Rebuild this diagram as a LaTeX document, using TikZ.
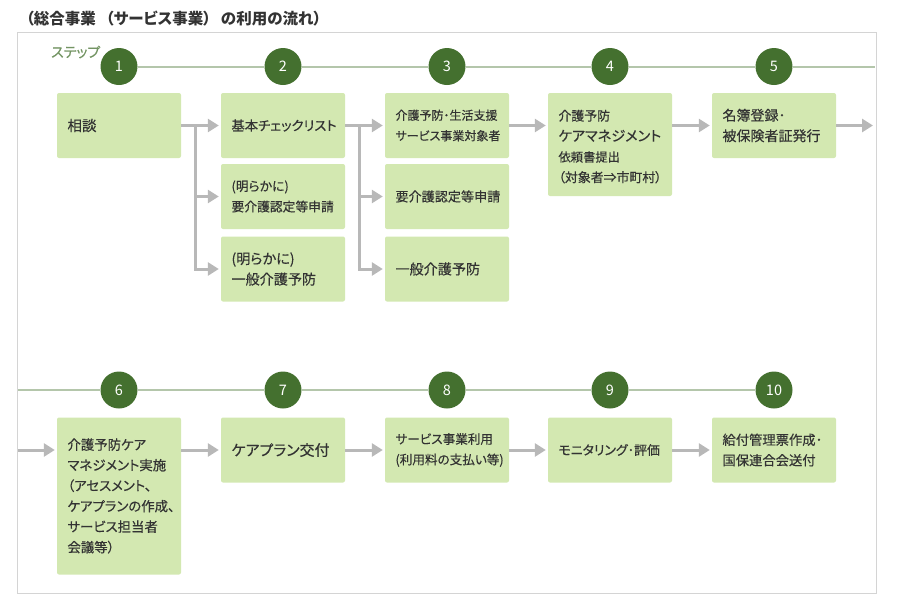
\documentclass[tikz,border=0pt]{standalone}
\usepackage{fontspec}
\usetikzlibrary{arrows.meta}
\setmainfont{Noto Sans CJK JP}[RawFeature={+palt}]
\newfontfamily\boxfont{Noto Sans CJK JP}[RawFeature={+palt},FakeBold=0.4]
\newcommand{\linesize}[1]{\fontsize{#1}{20.5}\selectfont}
\definecolor{boxgreen}{HTML}{D3E8B1}
\definecolor{stepgreen}{HTML}{44702F}
\definecolor{linegreen}{HTML}{B4C6AB}
\definecolor{flowgray}{HTML}{B8B8B8}
\definecolor{framegray}{HTML}{D4D4D4}
\definecolor{inkgray}{HTML}{333333}
\begin{document}
\begin{tikzpicture}
		[x=1pt,y=-1pt,
		stepnode/.style={circle,fill=stepgreen,text=white,minimum size=37pt,inner sep=0pt,font=\fontsize{14.5}{14.5}\selectfont},
		boxnode/.style={rectangle,rounded corners=2pt,fill=boxgreen,text=inkgray,minimum width=124pt,inner xsep=10.5pt,inner ysep=0pt,text width=103pt,align=left,font=\boxfont\linesize{#1}},
		shortbox/.style={boxnode=#1,minimum height=65pt},
		timeline/.style={draw=linegreen,line width=2pt},
		flow/.style={draw=flowgray,line width=3pt,-{Triangle[length=11pt,width=13pt]},shorten >=2pt}]
		\useasboundingbox (0,0) rectangle (900,600);
		\draw[framegray,line width=1pt] (17.5,32) rectangle (876,593);
		\node[anchor=west,inner sep=0pt,text=inkgray,name=title,font=\bfseries\fontsize{15.5}{15.5}\selectfont] at (26,19) {（総合事業\hspace{10pt}（サービス事業）\hspace{10pt}の利用の流れ）};
		\node[anchor=west,inner sep=0pt,text=stepgreen!75!white,name=steplabel,font=\boxfont\fontsize{14}{14}\selectfont] at (51,52) {ステップ};
		% steps
		\node[stepnode,name=step1] at (119,66.5) {1};
		\node[stepnode,name=step2] at (283,66.5) {2};
		\node[stepnode,name=step3] at (447,66.5) {3};
		\node[stepnode,name=step4] at (610,66.5) {4};
		\node[stepnode,name=step5] at (774,66.5) {5};
		\node[stepnode,name=step6] at (119,390) {6};
		\node[stepnode,name=step7] at (283,390) {7};
		\node[stepnode,name=step8] at (447,390) {8};
		\node[stepnode,name=step9] at (610,390) {9};
		\node[stepnode,name=step10] at (774,390) {10};
		\coordinate (lineend) at (875,66.5);
		\coordinate (linestart) at (18,390);
		\draw[timeline] (step1)--(step2);
		\draw[timeline] (step2)--(step3);
		\draw[timeline] (step3)--(step4);
		\draw[timeline] (step4)--(step5);
		\draw[timeline] (step5)--(lineend);
		\draw[timeline] (linestart)--(step6);
		\draw[timeline] (step6)--(step7);
		\draw[timeline] (step7)--(step8);
		\draw[timeline] (step8)--(step9);
		\draw[timeline] (step9)--(step10);
		% first row
		\node[shortbox=14.5,name=soudan] at (119,125.5) {相談};
		\node[shortbox=13.3,name=check] at (283,125.5) {基本チェックリスト};
		\node[shortbox=12.8,name=shinsei] at (283,196.5) {(明らかに)\\要介護認定等申請};
		\node[shortbox=14.1,name=ippan] at (283,269) {(明らかに)\\一般介護予防};
		\node[shortbox=12,name=taisho] at (447,125.5) {介護予防･生活支援\\サービス事業対象者};
		\node[shortbox=13.1,name=shinsei2] at (447,196.5) {要介護認定等申請};
		\node[shortbox=14.1,name=ippan2] at (447,269) {一般介護予防};
		\node[boxnode=12.9,minimum height=103pt,name=irai] at (610,144.5) {\rule{0pt}{15pt}介護予防\\{\linesize{14.2}ケアマネジメント}\\{\linesize{12.3}依頼書提出}\\（対象者⇒市町村）};
		\node[shortbox=14,name=meibo] at (774,125.5) {名簿登録･\\被保険者証発行};
		% second row
		\node[boxnode=13.4,minimum height=157pt,name=jisshi] at (119,496) {介護予防ケア\\マネジメント実施\\（アセスメント、\\ケアプランの作成、\\サービス担当者\\会議等）\\[18pt]};
		\node[shortbox=15,name=koufu] at (283,450) {ケアプラン交付};
		\node[shortbox=12.6,name=riyou] at (447,450) {サービス事業利用\\(利用料の支払い等)};
		\node[shortbox=12.9,name=hyouka] at (610,450) {モニタリング･評価};
		\node[shortbox=13.3,name=kyufu] at (774,450) {給付管理票作成･\\国保連合会送付};
		% branches
		\coordinate (fork1) at (195,125.5);
		\coordinate (fork2) at (359,125.5);
		\coordinate (flowend) at (875,125.5);
		\coordinate (flowstart) at (18,450);
		\draw[flow] (soudan)--(check);
		\draw[flow] (fork1)|-(shinsei);
		\draw[flow] (fork1)|-(ippan);
		\draw[flow] (check)--(taisho);
		\draw[flow] (fork2)|-(shinsei2);
		\draw[flow] (fork2)|-(ippan2);
		\draw[flow] (taisho.east|-meibo)--(irai.west|-meibo);
		\draw[flow] (irai.east|-meibo)--(meibo);
		\draw[flow] (meibo)--(flowend);
		\draw[flow] (flowstart)--(jisshi.west|-flowstart);
		\draw[flow] (jisshi.east|-koufu)--(koufu);
		\draw[flow] (koufu)--(riyou);
		\draw[flow] (riyou)--(hyouka);
		\draw[flow] (hyouka)--(kyufu);
\end{tikzpicture}
\end{document}
